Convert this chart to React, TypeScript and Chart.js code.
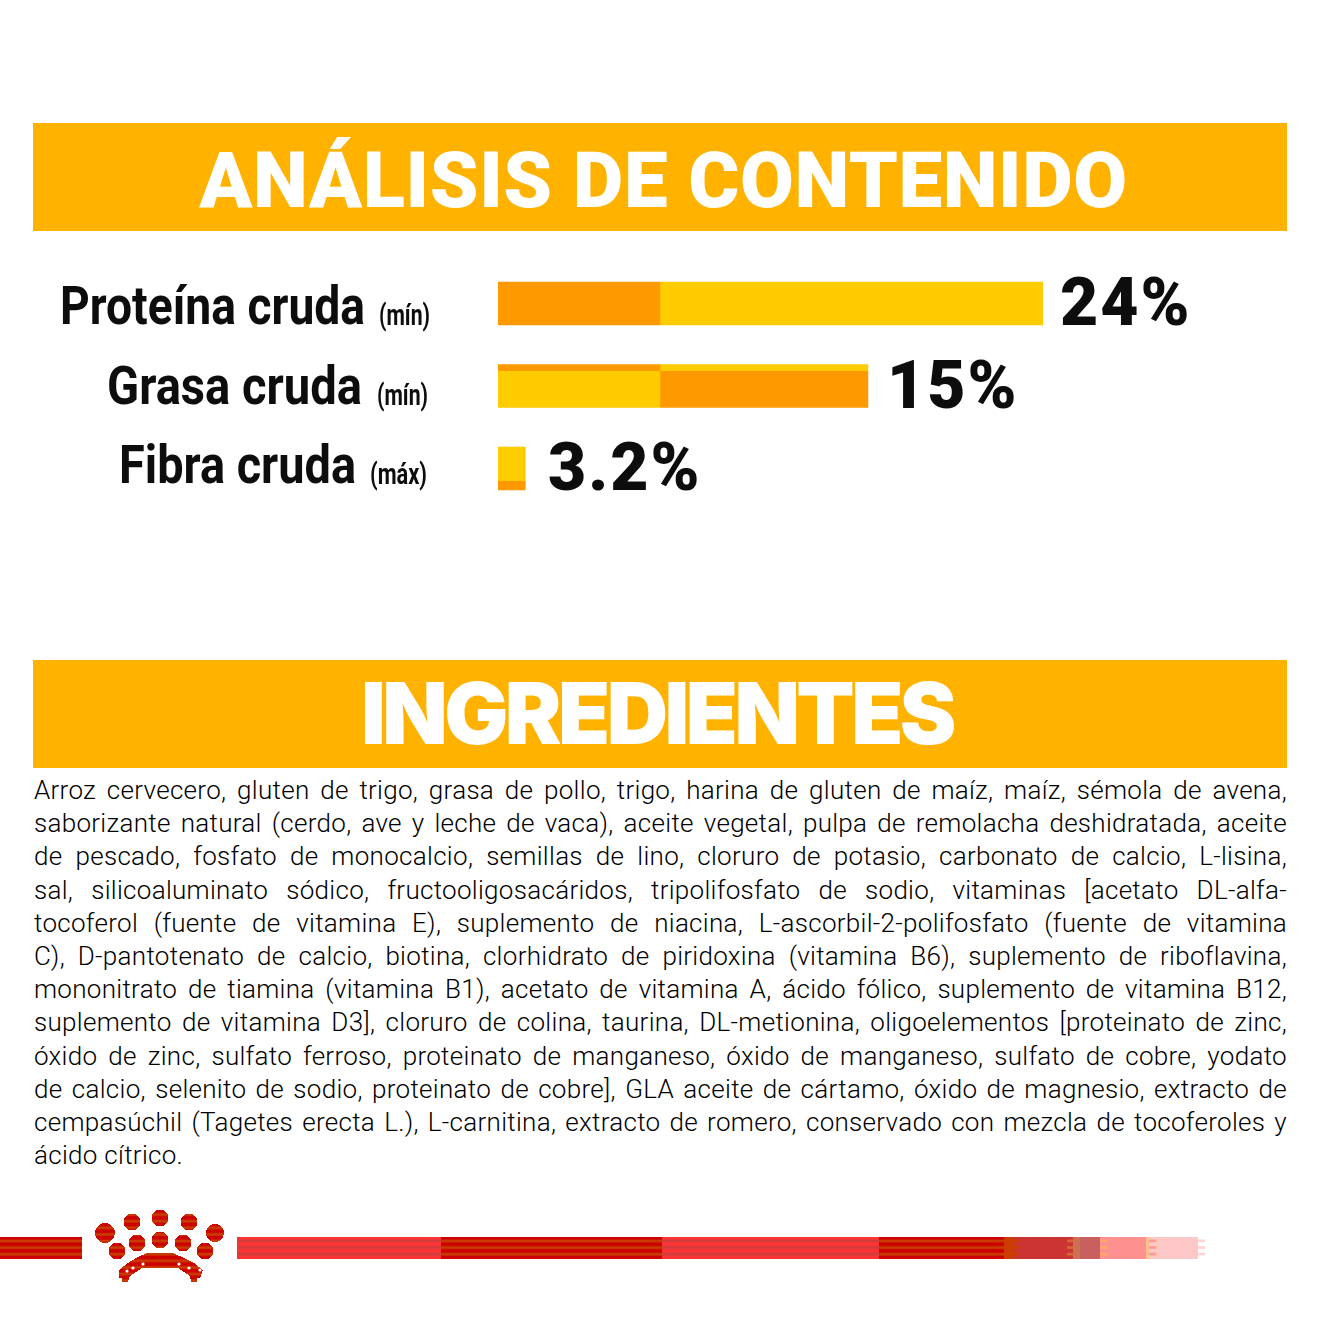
import React, { useEffect, useRef } from 'react';
import { Chart, registerables, Plugin } from 'chart.js';

Chart.register(...registerables);

const categories = ['Proteína cruda', 'Grasa cruda', 'Fibra cruda'];
const qualifiers = ['(mín)', '(mín)', '(máx)'];
const valueLabels = ['24%', '15%', '3.2%'];

// bar lengths (the reference's bars are not proportional to their labels)
const firstSegment = [7.13, 7.13, 1.19];
const secondSegment = [16.87, 9.16, 0];

const ORANGE = '#FF9900';
const YELLOW = '#FFCC00';
const BANNER = '#FFB300';

const firstColours = [ORANGE, YELLOW, YELLOW];
const secondColours = [YELLOW, ORANGE, YELLOW];

const BAR_HEIGHT = 43;

const ingredientLines = [
  'Arroz cervecero, gluten de trigo, grasa de pollo, trigo, harina de gluten de maíz, maíz, sémola de avena,',
  'saborizante natural (cerdo, ave y leche de vaca), aceite vegetal, pulpa de remolacha deshidratada, aceite',
  'de pescado, fosfato de monocalcio, semillas de lino, cloruro de potasio, carbonato de calcio, L-lisina,',
  'sal, silicoaluminato sódico, fructooligosacáridos, tripolifosfato de sodio, vitaminas [acetato DL-alfa-',
  'tocoferol (fuente de vitamina E), suplemento de niacina, L-ascorbil-2-polifosfato (fuente de vitamina',
  'C), D-pantotenato de calcio, biotina, clorhidrato de piridoxina (vitamina B6), suplemento de riboflavina,',
  'mononitrato de tiamina (vitamina B1), acetato de vitamina A, ácido fólico, suplemento de vitamina B12,',
  'suplemento de vitamina D3], cloruro de colina, taurina, DL-metionina, oligoelementos [proteinato de zinc,',
  'óxido de zinc, sulfato ferroso, proteinato de manganeso, óxido de manganeso, sulfato de cobre, yodato',
  'de calcio, selenito de sodio, proteinato de cobre], GLA aceite de cártamo, óxido de magnesio, extracto de',
  'cempasúchil (Tagetes erecta L.), L-carnitina, extracto de romero, conservado con mezcla de tocoferoles y',
  'ácido cítrico.',
];

// the thin opposite-colour band on rows 2 and 3, as a share of the bar height
const bands: Record<number, [number, number]> = { 1: [0, 0.14], 2: [0.79, 1] };

const barFill = (ctx: any, colours: string[]) => {
  const row = ctx.dataIndex;
  const main = colours[row];
  const band = bands[row];
  const { chart } = ctx;
  if (!band || !chart.chartArea) return main;
  const other = main === ORANGE ? YELLOW : ORANGE;
  const mid = chart.scales.y.getPixelForValue(row);
  const g = chart.ctx.createLinearGradient(0, mid - BAR_HEIGHT / 2, 0, mid + BAR_HEIGHT / 2);
  const atTop = band[0] === 0;
  const cut = atTop ? band[1] : band[0];
  g.addColorStop(0, atTop ? other : main);
  g.addColorStop(cut, atTop ? other : main);
  g.addColorStop(cut, atTop ? main : other);
  g.addColorStop(1, atTop ? main : other);
  return g;
};

// no condensed face is installed, so squeeze the text to the width it has in the reference
const drawSqueezed = (ctx: CanvasRenderingContext2D, text: string, right: number, base: number, width: number) => {
  ctx.save();
  ctx.translate(right, base);
  ctx.scale(width / ctx.measureText(text).width, 1);
  ctx.textAlign = 'right';
  ctx.fillText(text, 0, 0);
  ctx.restore();
};

const labelsPlugin: Plugin<'bar'> = {
  id: 'rowLabels',
  afterDatasetsDraw(chart) {
    const { ctx, scales } = chart;
    const categoryRight = [365, 362, 356];
    const categoryWidth = [305, 255, 237];
    const qualifierRight = [430, 428, 427];
    const qualifierWidth = [51, 51, 57];
    const baseNudge = [-1, -4, -7];
    const valueGap = [17, 19, 23];
    categories.forEach((name, i) => {
      const bottom = scales.y.getPixelForValue(i) + BAR_HEIGHT / 2;
      ctx.save();
      ctx.fillStyle = '#0D0D0D';
      ctx.textBaseline = 'alphabetic';
      ctx.font = '700 54px Roboto';
      drawSqueezed(ctx, name, categoryRight[i], bottom + baseNudge[i], categoryWidth[i]);
      ctx.font = '700 29px Roboto';
      drawSqueezed(ctx, qualifiers[i], qualifierRight[i], bottom + baseNudge[i] + 1, qualifierWidth[i]);
      ctx.textAlign = 'left';
      ctx.font = '900 66px Roboto';
      (ctx as any).letterSpacing = '2px';
      const end = scales.x.getPixelForValue(firstSegment[i] + secondSegment[i]);
      ctx.fillText(valueLabels[i], end + valueGap[i], bottom);
      ctx.restore();
    });
  },
};

const stripeRows = [0, 1, 2];

const Fingers: React.FC<{ x: number; w: number; fill: string }> = ({ x, w, fill }) => (
  <>
    {stripeRows.map((r) => (
      <rect key={r} x={x} y={39.5 + r * 6.6} width={w} height={2.8} fill={fill} />
    ))}
  </>
);

const Footer: React.FC = () => (
  <svg width={1320} height={100} style={{ position: 'absolute', left: 0, top: 1200 }}>
    <defs>
      <pattern id="deep" width={10} height={6.6} patternUnits="userSpaceOnUse" y={37}>
        <rect width={10} height={6.6} fill="#CC0000" />
        <rect y={2.6} width={10} height={2.8} fill="#C83C00" />
      </pattern>
      <pattern id="light" width={10} height={6.6} patternUnits="userSpaceOnUse" y={37}>
        <rect width={10} height={6.6} fill="#FF3333" />
        <rect y={2.4} width={10} height={3} fill="#D43C3C" />
      </pattern>
    </defs>
    <rect x={0} y={37} width={82} height={22} fill="url(#deep)" />
    <rect x={237} y={37} width={204} height={22} fill="url(#light)" />
    <rect x={441} y={37} width={221} height={22} fill="url(#deep)" />
    <rect x={662} y={37} width={217} height={22} fill="url(#light)" />
    <rect x={879} y={37} width={125} height={22} fill="url(#deep)" />
    <rect x={1004} y={37} width={10} height={22} fill="#CC3C00" />
    <rect x={1014} y={37} width={59} height={22} fill="#CC3333" />
    <Fingers x={1014} w={6} fill="#CC3C00" />
    <Fingers x={1067} w={6} fill="#D06A30" />
    <rect x={1073} y={37} width={7} height={22} fill="#CC7050" />
    <rect x={1080} y={37} width={20} height={22} fill="#C86060" />
    <rect x={1100} y={37} width={46} height={22} fill="#FF9090" />
    <Fingers x={1100} w={7} fill="#FFA870" />
    <rect x={1146} y={37} width={12} height={22} fill="#FFC8C8" />
    <rect x={1146} y={37} width={3} height={22} fill="#FFC090" />
    <Fingers x={1149} w={7} fill="#FF9A9A" />
    <Fingers x={1156} w={3} fill="#FFC890" />
    <rect x={1158} y={37} width={40} height={22} fill="#FFC8C8" />
    <Fingers x={1198} w={7} fill="#FFD4D4" />
    <g fill="url(#deep)" shapeRendering="crispEdges">
      <circle cx={105} cy={33} r={10} />
      <circle cx={132} cy={22} r={8.5} />
      <circle cx={160} cy={18} r={8.5} />
      <circle cx={189} cy={22} r={8.5} />
      <circle cx={215} cy={33} r={9} />
      <circle cx={117} cy={51} r={8.5} />
      <circle cx={137} cy={43} r={8.5} />
      <circle cx={160} cy={40} r={8.5} />
      <circle cx={183} cy={43} r={8.5} />
      <circle cx={205} cy={51} r={8.5} />
      <path d="M119 70 L128 63 L136 58 L147 53 L173 53 L184 58 L194 63 L203 70 L200 78 L197 78 L197 82 L191 82 L190 76 L178 68 L142 68 L130 76 L128 82 L122 82 L122 78 L119 78 Z" />
    </g>
    <g fill="#fff">
      <circle cx={127} cy={71} r={1.6} />
      <circle cx={133} cy={68} r={1.6} />
      <circle cx={143} cy={64} r={1.6} />
      <circle cx={179} cy={64} r={1.6} />
      <circle cx={189} cy={68} r={1.6} />
      <circle cx={200} cy={70} r={1.6} />
    </g>
  </svg>
);

const App: React.FC = () => {
  const canvasRef = useRef<HTMLCanvasElement | null>(null);

  useEffect(() => {
    if (!canvasRef.current) return;
    const chart = new Chart(canvasRef.current, {
      type: 'bar',
      data: {
        labels: categories,
        datasets: [
          { data: firstSegment, backgroundColor: (c: any) => barFill(c, firstColours), barThickness: BAR_HEIGHT },
          { data: secondSegment, backgroundColor: (c: any) => barFill(c, secondColours), barThickness: BAR_HEIGHT },
        ],
      },
      options: {
        indexAxis: 'y',
        responsive: false,
        animation: false,
        devicePixelRatio: 1,
        layout: { padding: { left: 498, right: 277, top: 22.25, bottom: 30.25 } },
        plugins: { legend: { display: false }, tooltip: { enabled: false } },
        scales: {
          x: { stacked: true, display: false, min: 0, max: 24 },
          y: { stacked: true, display: false },
        },
      },
      plugins: [labelsPlugin],
    });
    return () => chart.destroy();
  }, []);

  const banner = (top: number): React.CSSProperties => ({
    position: 'absolute',
    left: 33,
    top,
    width: 1254,
    height: 108,
    boxSizing: 'border-box',
    background: BANNER,
    color: '#fff',
    textAlign: 'center',
    whiteSpace: 'nowrap',
  });

  return (
    <div style={{ position: 'absolute', left: 0, top: 0, width: 1320, height: 1320, overflow: 'hidden', background: '#fff' }}>
      <div style={{ ...banner(123), font: '900 78px/116px Roboto', letterSpacing: 0.6, paddingLeft: 7 }}>ANÁLISIS DE CONTENIDO</div>
      <canvas ref={canvasRef} width={1320} height={300} style={{ position: 'absolute', left: 0, top: 240 }} />
      <div style={{ ...banner(660), font: '900 85px/108px Inter', letterSpacing: -3.5, paddingRight: 6 }}>INGREDIENTES</div>
      <div style={{ position: 'absolute', left: 34, top: 774, width: 1253, font: '300 26px/33.2px Roboto', letterSpacing: 0.3, color: '#000' }}>
        {ingredientLines.map((line, i) => (
          <div
            key={i}
            style={{ whiteSpace: 'nowrap', textAlign: 'justify', textAlignLast: i === ingredientLines.length - 1 ? 'left' : 'justify' }}
          >
            {line}
          </div>
        ))}
      </div>
      <Footer />
    </div>
  );
};

export default App;
